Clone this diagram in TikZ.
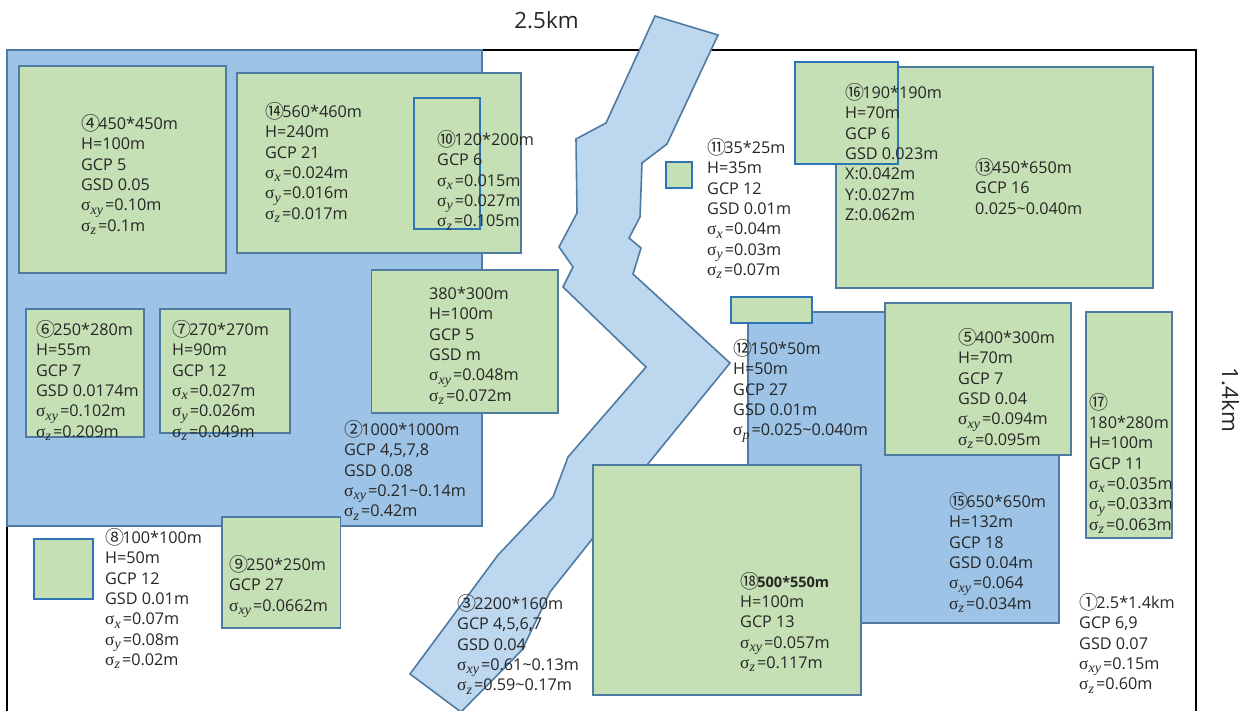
\documentclass[tikz,border=0pt]{standalone}
\usepackage{fontspec}
\setmainfont{Open Sans}
\newfontfamily\cjk{Noto Sans CJK KR}
\newfontfamily\sigfont{Liberation Serif}
\newcommand{\cn}[1]{\smash{\fontsize{19}{19}\selectfont\cjk\raisebox{-1pt}{#1}}\kern-1.8pt}
\newcommand{\sg}[1]{{\sigfont\fontsize{17.5}{17.5}\selectfont σ\raisebox{-3.5pt}{\fontsize{14}{14}\selectfont\itshape #1}\kern2pt}}
\definecolor{areablue}{HTML}{9DC3E6}
\definecolor{riverblue}{HTML}{BDD7EE}
\definecolor{fieldgreen}{HTML}{C5E0B4}
\definecolor{edgeblue}{HTML}{4F7BA3}
\definecolor{brightedge}{HTML}{2E75B6}
\definecolor{inkgray}{HTML}{262626}
\begin{document}
\begin{tikzpicture}[x=1pt, y=-1pt,
    area/.style={draw=edgeblue, line width=1.6pt, fill=areablue, inner sep=0pt},
    field/.style={draw=edgeblue, line width=1.6pt, fill=fieldgreen, inner sep=0pt},
    smallfield/.style={field, draw=brightedge, line width=1.8pt},
    info/.style={anchor=north west, inner sep=0pt, align=left, text=inkgray, font=\fontsize{16.2}{20.3}\selectfont},
    scalelabel/.style={inner sep=0pt, text=inkgray, font=\fontsize{22.4}{25}\selectfont}]
\useasboundingbox (0,0) rectangle (1246,711);
\fill[white] (0,0) rectangle (1246,711);
\draw[black, line width=1.6pt] (7,720) -- (7,50) -- (1196,50) -- (1196,720);
\node[area, minimum width=475, minimum height=476] (zone2) at (244.5,288) {};
\node[field, minimum width=207, minimum height=207] (field4) at (122.5,169.5) {};
\node[field, minimum width=283.5, minimum height=180] (field14) at (379,163) {};
\node[smallfield, minimum width=66, minimum height=131] (field10) at (447,163.5) {};
\node[field, minimum width=186.5, minimum height=142.5] (field380) at (464.7,341.5) {};
\node[field, minimum width=118, minimum height=128] (field6) at (85,373) {};
\node[field, minimum width=130, minimum height=124] (field7) at (225,371) {};
\node[smallfield, minimum width=59, minimum height=60] (field8) at (63.5,569) {};
\node[field, minimum width=118.5, minimum height=111] (field9) at (281.3,572.5) {};
\draw[draw=edgeblue, line width=1.6pt, fill=riverblue] (655,16) -- (718,35) -- (667,144) -- (642,163) -- (640,217) -- (629,238) -- (641,248) -- (633,274) -- (730,363) -- (647,465) -- (593,538) -- (550,592) -- (522,650) -- (461,712) -- (410,674) -- (498,555) -- (553,497) -- (568,457) -- (646,367) -- (563,287) -- (573,267) -- (559,247) -- (577,213) -- (576,139) -- (606,123) -- cycle;
\node[smallfield, minimum width=26, minimum height=26] (field11) at (679,175) {};
\node[field, minimum width=317, minimum height=221] (field13) at (994.5,177.5) {};
\node[smallfield, minimum width=103, minimum height=102] (field16) at (846.5,113) {};
\node[area, minimum width=311, minimum height=311] (zone15) at (903.5,467.5) {};
\node[smallfield, minimum width=81, minimum height=26] (field12) at (771.5,310) {};
\node[field, minimum width=186, minimum height=152] (field5) at (978,379) {};
\node[field, minimum width=86, minimum height=226] (field17) at (1129,425) {};
\node[field, minimum width=268, minimum height=230] (field18) at (727,580) {};
\node[scalelabel] (width) at (546.5,20) {2.5km};
\node[scalelabel, rotate=-90] (height) at (1230.5,400) {1.4km};
\node[info] (text4) at (81,117) {\cn{④}450*450m\\H=100m\\GCP 5\\GSD 0.05\\\sg{xy}=0.10m\\\sg{z}=0.1m};
\node[info] (text14) at (265,105) {\cn{⑭}560*460m\\H=240m\\GCP 21\\\sg{x}=0.024m\\\sg{y}=0.016m\\\sg{z}=0.017m};
\node[info] (text10) at (437,133) {\cn{⑩}120*200m\\GCP 6\\\sg{x}=0.015m\\\sg{y}=0.027m\\\sg{z}=0.105m};
\node[info] (text380) at (429,287) {380*300m\\H=100m\\GCP 5\\GSD m\\\sg{xy}=0.048m\\\sg{z}=0.072m};
\node[info] (text6) at (36,323) {\cn{⑥}250*280m\\H=55m\\GCP 7\\GSD 0.0174m\\\sg{xy}=0.102m\\\sg{z}=0.209m};
\node[info] (text7) at (172,323) {\cn{⑦}270*270m\\H=90m\\GCP 12\\\sg{x}=0.027m\\\sg{y}=0.026m\\\sg{z}=0.049m};
\node[info] (text2) at (344,423) {\cn{②}1000*1000m\\GCP 4,5,7,8\\GSD 0.08\\\sg{xy}=0.21\textasciitilde0.14m\\\sg{z}=0.42m};
\node[info] (text8) at (105,531) {\cn{⑧}100*100m\\H=50m\\GCP 12\\GSD 0.01m\\\sg{x}=0.07m\\\sg{y}=0.08m\\\sg{z}=0.02m};
\node[info] (text9) at (229,558) {\cn{⑨}250*250m\\GCP 27\\\sg{xy}=0.0662m};
\node[info] (text3) at (457,597) {\cn{③}2200*160m\\GCP 4,5,6,7\\GSD 0.04\\\sg{xy}=0.61\textasciitilde0.13m\\\sg{z}=0.59\textasciitilde0.17m};
\node[info] (text18) at (740,576) {\cn{⑱}{\fontsize{14.5}{20.3}\selectfont\bfseries 500*550m}\\H=100m\\GCP 13\\\sg{xy}=0.057m\\\sg{z}=0.117m};
\node[info] (text12) at (733,342) {\cn{⑫}150*50m\\H=50m\\GCP 27\\GSD 0.01m\\\sg{p}=0.025\textasciitilde0.040m};
\node[info] (text11) at (707,141) {\cn{⑪}35*25m\\H=35m\\GCP 12\\GSD 0.01m\\\sg{x}=0.04m\\\sg{y}=0.03m\\\sg{z}=0.07m};
\node[info] (text16) at (845,86) {\cn{⑯}190*190m\\H=70m\\GCP 6\\GSD 0.023m\\X:0.042m\\Y:0.027m\\Z:0.062m};
\node[info] (text13) at (975,161) {\cn{⑬}450*650m\\GCP 16\\0.025\textasciitilde0.040m};
\node[info] (text5) at (958,331) {\cn{⑤}400*300m\\H=70m\\GCP 7\\GSD 0.04\\\sg{xy}=0.094m\\\sg{z}=0.095m};
\node[info] (text17) at (1089,408) {\cn{⑰}\\180*280m\\H=100m\\GCP 11\\\sg{x}=0.035m\\\sg{y}=0.033m\\\sg{z}=0.063m};
\node[info] (text15) at (949,495) {\cn{⑮}650*650m\\H=132m\\GCP 18\\GSD 0.04m\\\sg{xy}=0.064\\\sg{z}=0.034m};
\node[info] (text1) at (1079,596) {\cn{①}2.5*1.4km\\GCP 6,9\\GSD 0.07\\\sg{xy}=0.15m\\\sg{z}=0.60m};
\end{tikzpicture}
\end{document}
